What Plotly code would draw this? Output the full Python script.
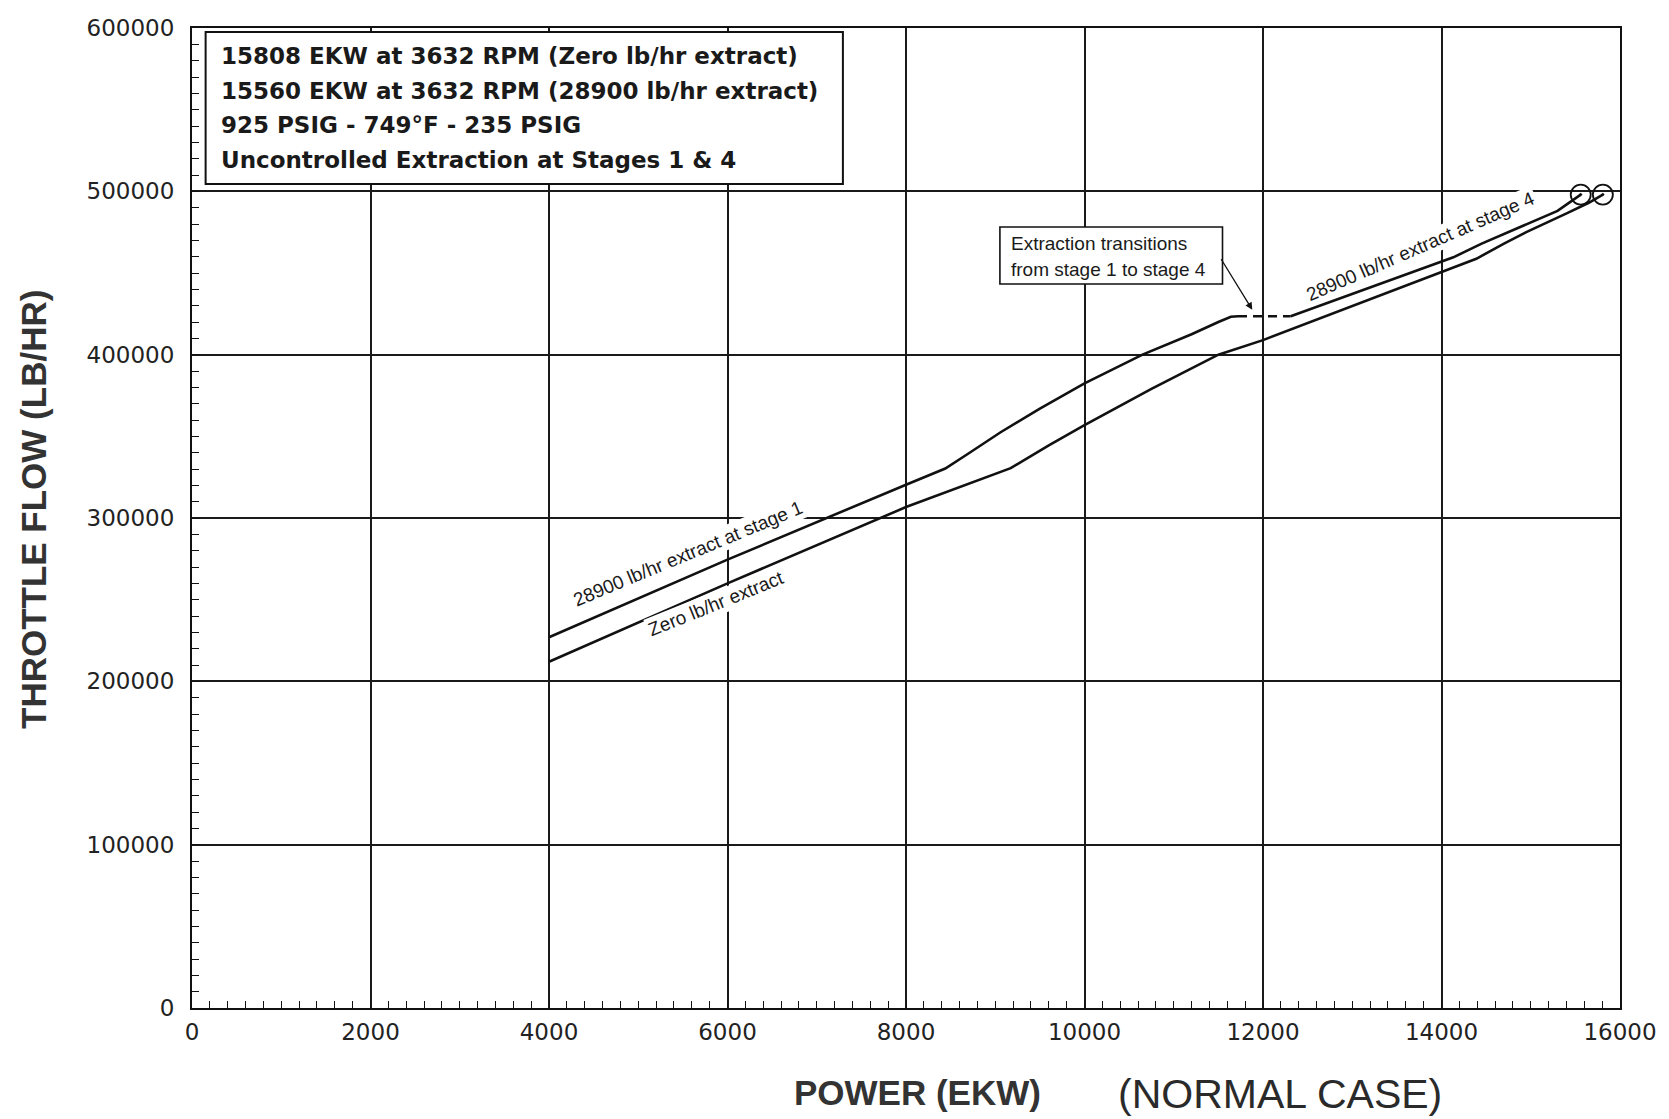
import plotly.graph_objects as go

# ---------------- data ----------------
# 28900 lb/hr extract at stage 1 (solid, up to transition)
stage1_x = [4000, 6000, 8000, 8440, 8700, 9060, 9500, 10000, 10650, 11200, 11500, 11640, 11720]
stage1_y = [227000, 274500, 320400, 330300, 339500, 352500, 367000, 382400, 400000, 412500, 420000, 423200, 423500]

# transition (dashed)
trans_x = [11720, 12310]
trans_y = [423500, 423500]

# 28900 lb/hr extract at stage 4
stage4_x = [12310, 14133, 14450, 14820, 15300, 15560]
stage4_y = [423500, 459600, 468000, 476500, 488000, 498000]

# Zero lb/hr extract
zero_x = [4000, 6000, 8000, 9173, 9600, 10000, 10750, 11500, 12000, 14390, 14700, 14950, 15420, 15650, 15808]
zero_y = [212000, 260000, 306700, 330500, 344500, 356900, 379000, 400000, 408900, 458700, 468000, 475000, 487000, 493000, 498000]

# rated end points
end_x = [15560, 15808]
end_y = [498000, 498000]

legend_lines = [
    "15808 EKW at 3632 RPM (Zero lb/hr extract)",
    "15560 EKW at 3632 RPM (28900 lb/hr extract)",
    "925 PSIG - 749\u00b0F - 235 PSIG",
    "Uncontrolled Extraction at Stages 1 & 4",
]

x_ticks = [0, 2000, 4000, 6000, 8000, 10000, 12000, 14000, 16000]
y_ticks = [0, 100000, 200000, 300000, 400000, 500000, 600000]

# ---------------- figure ----------------
W, H = 1669, 1119
L, R, T, B = 192, 40, 28, 111
PW, PH = W - L - R, H - T - B


def px(xp):
    return (xp - L) / PW


def py(yp):
    return (H - B - yp) / PH


LINE = dict(color="#111111", width=2.6)
fig = go.Figure()
fig.add_trace(go.Scatter(x=stage1_x, y=stage1_y, mode="lines", line=LINE))
fig.add_trace(go.Scatter(x=trans_x, y=trans_y, mode="lines",
                         line=dict(color="#111111", width=2.6, dash="9px,6px")))
fig.add_trace(go.Scatter(x=stage4_x, y=stage4_y, mode="lines", line=LINE))
fig.add_trace(go.Scatter(x=zero_x, y=zero_y, mode="lines", line=LINE))
fig.add_trace(go.Scatter(x=end_x, y=end_y, mode="markers",
                         marker=dict(symbol="circle-open-dot", size=20, color="#111111",
                                     line=dict(width=1.8, color="#111111"))))

tickfont = dict(family="DejaVu Sans", size=23, color="#222222")
axis_common = dict(
    showline=True, linecolor="#111111", linewidth=2, mirror=True,
    showgrid=True, gridcolor="#1a1a1a", gridwidth=1.8, zeroline=False,
    ticks="inside", ticklen=7, tickwidth=1.4, tickcolor="#111111",
    tickfont=tickfont, tickformat="d",
)
fig.update_xaxes(range=[0, 16000], tickvals=x_ticks, ticklabelstandoff=2,
                 minor=dict(dtick=200, ticks="inside", ticklen=7, tickwidth=1.4,
                            tickcolor="#111111", showgrid=False),
                 **axis_common)
fig.update_yaxes(range=[0, 600000], tickvals=y_ticks, ticklabelstandoff=11,
                 minor=dict(dtick=10000, ticks="inside", ticklen=7, tickwidth=1.4,
                            tickcolor="#111111", showgrid=False),
                 **axis_common)

shapes = []
annotations = []

# info box
shapes.append(dict(type="rect", xref="paper", yref="paper",
                   x0=px(205.7), x1=px(847), y0=py(184), y1=py(32),
                   line=dict(color="#111111", width=2), fillcolor="white", layer="above"))
for txt, yc in zip(legend_lines, [56, 91, 125, 160]):
    annotations.append(dict(xref="paper", yref="paper", x=px(219), y=py(yc),
                            text=txt, showarrow=False, xanchor="left", yanchor="middle",
                            font=dict(family="DejaVu Sans", size=23, color="#1a1a1a", weight="bold")))

# callout box
shapes.append(dict(type="rect", xref="paper", yref="paper",
                   x0=px(1005), x1=px(1229), y0=py(284), y1=py(227),
                   line=dict(color="#111111", width=1.6), fillcolor="white", layer="above"))
for txt, yc in zip(["Extraction transitions", "from stage 1 to stage 4"], [243.5, 269.5]):
    annotations.append(dict(xref="paper", yref="paper", x=px(1014), y=py(yc),
                            text=txt, showarrow=False, xanchor="left", yanchor="middle",
                            font=dict(family="Liberation Sans", size=19, color="#1a1a1a")))
# arrow
annotations.append(dict(x=11880, y=427500, xref="x", yref="y", text="",
                        showarrow=True, ax=-32, ay=-52, arrowhead=2, arrowsize=1.1,
                        arrowwidth=1.3, arrowcolor="#111111", standoff=0))

# curve labels
lab_font = dict(family="Liberation Sans", size=19, color="#1a1a1a")
annotations.append(dict(x=5560, y=278000, xref="x", yref="y",
                        text="28900 lb/hr extract at stage 1", showarrow=False,
                        textangle=-22.5, font=lab_font, bgcolor="white", borderpad=1))
annotations.append(dict(x=5874, y=247500, xref="x", yref="y",
                        text="Zero lb/hr extract", showarrow=False,
                        textangle=-22, font=lab_font, bgcolor="white", borderpad=1))
annotations.append(dict(x=13760, y=466500, xref="x", yref="y",
                        text="28900 lb/hr extract at stage 4", showarrow=False,
                        textangle=-23.5, font=lab_font, bgcolor="white", borderpad=1))

# axis titles
annotations.append(dict(xref="paper", yref="paper", x=px(32), y=py(510),
                        text="THROTTLE FLOW (LB/HR)", showarrow=False, textangle=-90,
                        xanchor="center", yanchor="middle",
                        font=dict(family="Liberation Sans", size=35, color="#333333", weight="bold")))
annotations.append(dict(xref="paper", yref="paper", x=px(922), y=py(1092),
                        text="POWER (EKW)", showarrow=False,
                        xanchor="center", yanchor="middle",
                        font=dict(family="Liberation Sans", size=35, color="#333333", weight="bold")))
annotations.append(dict(xref="paper", yref="paper", x=px(1287), y=py(1094),
                        text="(NORMAL CASE)", showarrow=False,
                        xanchor="center", yanchor="middle",
                        font=dict(family="Liberation Sans", size=41, color="#2a2a2a")))

fig.update_layout(
    width=W, height=H,
    margin=dict(l=L, r=R, t=T, b=B),
    paper_bgcolor="white", plot_bgcolor="white",
    showlegend=False,
    shapes=shapes, annotations=annotations,
)

fig.write_html("out.html", config={"displayModeBar": False},
               post_script="document.body.style.margin='0';document.body.style.overflow='hidden';")
